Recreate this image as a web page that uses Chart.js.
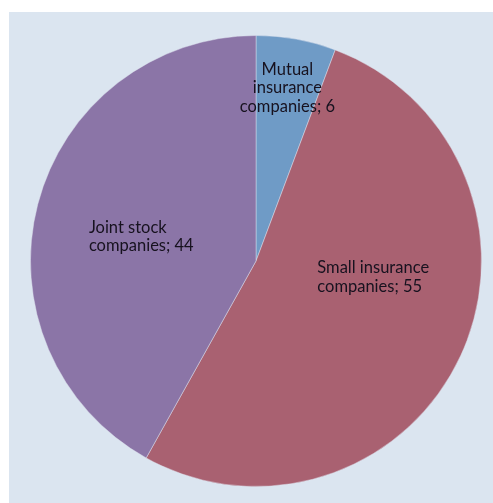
<!DOCTYPE html>
<html>
<head>
<meta charset="utf-8">
<script src="https://cdn.jsdelivr.net/npm/chart.js@4"></script>
<style>
  html, body { margin: 0; padding: 0; background: #ffffff; }
  #wrap { position: relative; width: 493px; height: 503px; overflow: hidden; }
  #panel { position: absolute; left: 9px; top: 12px; width: 484px; height: 491px; background: #dbe5f0; }
  #chart { position: absolute; left: 0; top: 0; }
</style>
</head>
<body>
<div id="wrap">
  <div id="panel"></div>
  <canvas id="chart" width="493" height="503"></canvas>
</div>
<script>
// Data
const categories = ['Mutual insurance companies', 'Small insurance companies', 'Joint stock companies'];
const labelLines = [['Mutual', 'insurance', 'companies; 6'], ['Small insurance', 'companies; 55'], ['Joint stock', 'companies; 44']];
const values = [6, 55, 44];
const sliceColors = ['#6f9bc6', '#a96171', '#8b75a7'];

// Label placement: radial fraction along the mid angle, text alignment, pixel nudge
const LABEL_PLACE = [
    { r: 0.78, align: 'center', dx: 0, dy: 0 },
    { r: 0.5, align: 'left', dx: -41, dy: -31 },
    { r: 0.5, align: 'left', dx: -58, dy: 4 }
];

const sliceLabels = {
    id: 'sliceLabels',
    afterDatasetsDraw(chart) {
        const ctx = chart.ctx;
        const meta = chart.getDatasetMeta(0);
        const lineH = 18.5;
        ctx.save();
        ctx.font = '16.5px Lato, "Open Sans", sans-serif';
        ctx.fillStyle = '#17121f';
        ctx.textBaseline = 'middle';
        meta.data.forEach((arc, i) => {
            const p = LABEL_PLACE[i];
            const mid = (arc.startAngle + arc.endAngle) / 2;
            const cx = arc.x + Math.cos(mid) * arc.outerRadius * p.r + p.dx;
            const cy = arc.y + Math.sin(mid) * arc.outerRadius * p.r + p.dy;
            const lines = labelLines[i];
            const top = cy - (lines.length - 1) * lineH / 2;
            ctx.textAlign = p.align;
            lines.forEach((t, k) => ctx.fillText(t, cx, top + k * lineH));
        });
        ctx.restore();
    }
};

new Chart(document.getElementById('chart'), {
    type: 'pie',
    data: {
        labels: categories,
        datasets: [{
            data: values,
            backgroundColor: sliceColors,
            borderColor: 'rgba(225, 228, 240, 0.45)',
            borderWidth: 1
        }]
    },
    options: {
        responsive: false,
        animation: false,
        layout: { padding: { left: 29, right: 10, top: 35, bottom: 16 } },
        plugins: {
            legend: { display: false },
            tooltip: { enabled: false }
        }
    },
    plugins: [sliceLabels]
});
</script>
</body>
</html>
